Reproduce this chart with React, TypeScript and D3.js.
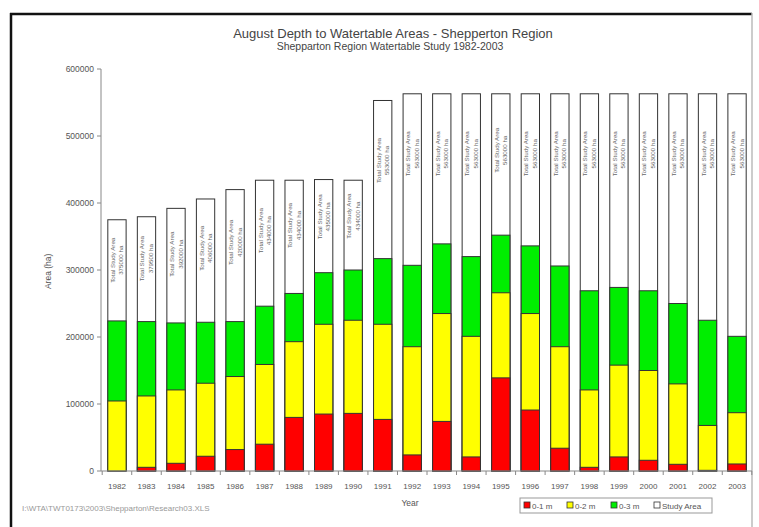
import React from "react";
import * as d3 from "d3";

const years = ["1982","1983","1984","1985","1986","1987","1988","1989","1990","1991","1992","1993","1994","1995","1996","1997","1998","1999","2000","2001","2002","2003"];
// cumulative areas (ha)
const area01 = [0, 5500, 11500, 22000, 32000, 40000, 80000, 85000, 86000, 77000, 24000, 74000, 21000, 139000, 91000, 34000, 5500, 21000, 16000, 10000, 1000, 10500];
const area02 = [104500, 112000, 121000, 131000, 141000, 159000, 193000, 219000, 225000, 219000, 185500, 235000, 201000, 266000, 235000, 185500, 121000, 158000, 150000, 130000, 68000, 87000];
const area03 = [224000, 223000, 221000, 222000, 223000, 246000, 265000, 296000, 300000, 317000, 307000, 339000, 320000, 352000, 336000, 306000, 269000, 274000, 269000, 250000, 225000, 201000];
const studyArea = [375000, 379500, 392000, 406000, 420000, 434000, 434000, 435000, 434000, 553000, 563000, 563000, 563000, 563000, 563000, 563000, 563000, 563000, 563000, 563000, 563000, 563000];
const yTicks = [0, 100000, 200000, 300000, 400000, 500000, 600000];

const seriesNames = ["0-1 m", "0-2 m", "0-3 m", "Study Area"];
const seriesColors = ["#ff0000", "#ffff00", "#00ee00", "#ffffff"];

export default function App() {
  const W = 759, H = 527;
  const x = d3.scaleBand<string>().domain(years).range([102.2, 751.8]).paddingInner(0.38).paddingOuter(0.19);
  const y = d3.scaleLinear().domain([0, 600000]).range([471, 69]);
  const bw = x.bandwidth();
  const step = x.step();
  const font = "Arial, 'Liberation Sans', sans-serif";
  const layers = [studyArea, area03, area02, area01];
  const layerColors = ["#ffffff", "#00ee00", "#ffff00", "#ff0000"];

  return (
    <svg width={W} height={H} style={{ position: "absolute", left: 0, top: 0, background: "#fff" }} fontFamily={font}>
      <rect x={0} y={0} width={W} height={H} fill="#fff" />
      {/* frame */}
      <line x1={11} y1={13} x2={11} y2={H} stroke="#111" strokeWidth={2.5} />
      <line x1={10} y1={14} x2={752} y2={14} stroke="#111" strokeWidth={2.5} />
      <line x1={752} y1={13} x2={752} y2={H} stroke="#bbb" strokeWidth={1.5} />

      {/* titles */}
      <text x={393} y={38} textAnchor="middle" fontSize={13} fill="#444">August Depth to Watertable Areas - Shepperton Region</text>
      <text x={390} y={50} textAnchor="middle" fontSize={10.5} fill="#444">Shepparton Region Watertable Study 1982-2003</text>

      {/* y axis */}
      <line x1={101} y1={y(600000)} x2={101} y2={y(0)} stroke="#888" strokeWidth={1} />
      {yTicks.map(t => (
        <g key={t}>
          <line x1={97} x2={101} y1={y(t)} y2={y(t)} stroke="#888" />
          <text x={94} y={y(t) + 3} textAnchor="end" fontSize={8.5} fill="#555">{t}</text>
        </g>
      ))}
      <text transform={`translate(51,${y(298000)}) rotate(-90)`} textAnchor="middle" fontSize={8.5} fill="#555">Area (ha)</text>

      {/* bars */}
      {years.map((yr, i) => (
        <g key={yr}>
          {layers.map((arr, k) => (
            arr[i] > 0 ? (
              <rect key={k} x={x(yr)} y={y(arr[i])} width={bw} height={y(0) - y(arr[i])}
                fill={layerColors[k]} stroke="#333" strokeWidth={1} />
            ) : null
          ))}
          {(() => {
            const top = y(studyArea[i]);
            const wh = y(area03[i]) - top;
            const cy = top + Math.min(60, wh * 0.4);
            const cx = (x(yr) as number) + bw / 2;
            return (
              <text transform={`translate(${cx},${cy}) rotate(-90)`} textAnchor="middle" fontSize={6.2} fill="#666">
                <tspan x={0} dy={-2}>Total Study Area</tspan>
                <tspan x={0} dy={8.5}>{studyArea[i]} ha</tspan>
              </text>
            );
          })()}
        </g>
      ))}

      {/* x axis */}
      <line x1={101} x2={752} y1={y(0)} y2={y(0)} stroke="#888" />
      {d3.range(years.length + 1).map(j => (
        <line key={j} x1={102.2 + j * step} x2={102.2 + j * step} y1={y(0)} y2={y(0) + 4} stroke="#888" />
      ))}
      {years.map(yr => (
        <text key={yr} x={(x(yr) as number) + bw / 2} y={489} textAnchor="middle" fontSize={8} fill="#555">{yr}</text>
      ))}
      <text x={410} y={506} textAnchor="middle" fontSize={8.5} fill="#555">Year</text>

      {/* file path */}
      <text x={22} y={511} fontSize={8} fill="#999">I:\WTA\TWT0173\2003\Shepparton\Research03.XLS</text>

      {/* legend */}
      <rect x={520} y={498} width={192} height={15} fill="#fff" stroke="#999" />
      {seriesNames.map((n, k) => {
        const lx = [524, 567, 611, 654][k];
        return (
          <g key={n}>
            <rect x={lx} y={502} width={6} height={6} fill={seriesColors[k]} stroke="#333" strokeWidth={0.8} />
            <text x={lx + 8} y={508.5} fontSize={8} fill="#555">{n}</text>
          </g>
        );
      })}
    </svg>
  );
}
